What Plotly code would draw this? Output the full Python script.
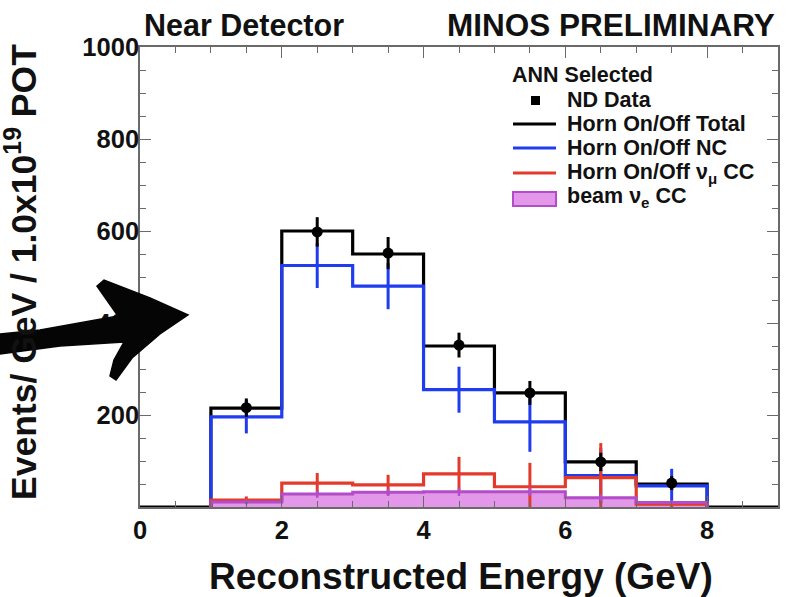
import plotly.graph_objects as go

# ---- histogram contents (events / GeV / 1e19 POT) ----
bin_edges = [0, 1, 2, 3, 4, 5, 6, 7, 8, 9]
total_on_off = [0, 215, 600, 550, 350, 248, 98, 50, 0]
nc_on_off = [0, 196, 525, 480, 255, 185, 68, 46, 0]
numu_cc_on_off = [0, 15, 52, 48, 72, 44, 64, 6, 0]
beam_nue_cc = [0, 11, 28, 32, 33, 33, 20, 10, 0]

# error bars drawn at the centres of the filled bins
bin_centres = [1.5, 2.5, 3.5, 4.5, 5.5, 6.5, 7.5]
nd_data = [216, 598, 552, 352, 248, 98, 52]
nd_data_err = [20, 32, 35, 27, 26, 20, 15]
nc_err = [36, 49, 50, 50, 65, 60, 37]
numu_cc_err = [8, 22, 22, 37, 52, 75, 6]
nue_cc_err = [5, 8, 8, 9, 9, 8, 5]

legend_labels = [
    "ND Data",
    "Horn On/Off Total",
    "Horn On/Off NC",
    "Horn On/Off \u03bd<sub>\u03bc</sub> CC",
    "beam \u03bd<sub>e</sub> CC",
]

BLACK = "#000000"
BLUE = "#1f3cf0"
RED = "#e43a2c"
PURPLE = "#b24cc8"
PINK = "#e397e9"
FONT = "Liberation Sans, Arial, sans-serif"

# canvas geometry (pixels)
W, H = 793, 597
ML, MR, MT, MB = 140, 15, 47, 90
PW, PH = W - ML - MR, H - MT - MB


def px(x, y):
    """Canvas pixel -> paper coordinates."""
    return (x - ML) / PW, (H - MB - y) / PH


def steps(values):
    # full step outline over every bin ('hv' needs the last value repeated)
    return bin_edges, list(values) + [values[-1]]


def filled_steps(values):
    # step outline over the non-empty bins only, dropping to zero at both ends
    inner = values[1:-1]
    xs = [bin_edges[1]] + bin_edges[1:-1]
    ys = [0] + list(inner) + [0]
    return xs, ys


fig = go.Figure()

# beam nu_e CC filled histogram
x, y = filled_steps(beam_nue_cc)
fig.add_trace(go.Scatter(x=x, y=y, mode="lines", line=dict(shape="hv", color=PINK, width=0),
                         fill="tozeroy", fillcolor=PINK, hoverinfo="skip"))

# total outline across the full range
x, y = steps(total_on_off)
fig.add_trace(go.Scatter(x=x, y=y, mode="lines", line=dict(shape="hv", color=BLACK, width=3.2)))

# NC and nu_mu CC outlines with their error bars
for vals, errs, col in [
    (nc_on_off, nc_err, BLUE),
    (numu_cc_on_off, numu_cc_err, RED),
]:
    x, y = filled_steps(vals)
    fig.add_trace(go.Scatter(x=x, y=y, mode="lines", line=dict(shape="hv", color=col, width=3.2)))
    fig.add_trace(go.Scatter(
        x=bin_centres, y=vals[1:8], mode="markers",
        marker=dict(size=1, opacity=0),
        error_y=dict(type="data", array=errs, width=0, thickness=3, color=col)))

# beam nu_e CC outline and error bars
x, y = filled_steps(beam_nue_cc)
fig.add_trace(go.Scatter(x=x, y=y, mode="lines", line=dict(shape="hv", color=PURPLE, width=3)))
fig.add_trace(go.Scatter(
    x=bin_centres, y=beam_nue_cc[1:8], mode="markers", marker=dict(size=1, opacity=0),
    error_y=dict(type="data", array=nue_cc_err, width=0, thickness=2.5, color=PURPLE)))

# near detector data
fig.add_trace(go.Scatter(
    x=bin_centres, y=nd_data, mode="markers",
    marker=dict(symbol="circle", size=11, color=BLACK),
    error_y=dict(type="data", array=nd_data_err, width=0, thickness=3, color=BLACK)))

axis_common = dict(
    showline=True, linecolor="#6a6a6a", linewidth=1.6, mirror="allticks",
    ticks="inside", ticklen=11, tickwidth=1.4, tickcolor="#6a6a6a",
    showgrid=False, zeroline=False,
    tickfont=dict(family=FONT, size=25.5, color="#111", weight="bold"),
)
fig.update_xaxes(range=[0, 9], tickmode="linear", tick0=0, dtick=2,
                 minor=dict(ticks="inside", ticklen=6, tickcolor="#6a6a6a", tickmode="linear",
                            tick0=0, dtick=0.5, showgrid=False),
                 **axis_common)
fig.update_yaxes(range=[0, 1000], tickmode="array", tickvals=[200, 400, 600, 800, 1000],
                 ticklabelstandoff=-6,
                 minor=dict(ticks="inside", ticklen=6, tickcolor="#6a6a6a", tickmode="linear",
                            tick0=0, dtick=50, showgrid=False),
                 **axis_common)

annotations = []


def text(xp, yp, s, size, xanchor="left", angle=0):
    ax, ay = px(xp, yp)
    annotations.append(dict(x=ax, y=ay, xref="paper", yref="paper", text=s, showarrow=False,
                            xanchor=xanchor, yanchor="middle", textangle=angle,
                            font=dict(family=FONT, size=size, color="#111", weight="bold")))


text(142, 25, "Near Detector", 30.5)
text(777, 25, "MINOS PRELIMINARY", 31.5, xanchor="right")
text(461, 576, "Reconstructed Energy (GeV)", 37, xanchor="center")
text(21, 272, "Events/ GeV / 1.0x10<sup>19</sup> POT", 35.5, xanchor="center", angle=-90)

# legend block
text(510, 75, "ANN Selected", 21.5)
shapes = []
row_y = [100, 124, 148, 173, 197]
for label, yy in zip(legend_labels, row_y):
    text(565, yy, label, 21.5)

x0, y0 = px(531, 96)
x1, y1 = px(540, 105)
shapes.append(dict(type="rect", xref="paper", yref="paper", x0=x0, y0=y0, x1=x1, y1=y1,
                   fillcolor=BLACK, line=dict(width=0)))
for col, yy in zip([BLACK, BLUE, RED], row_y[1:4]):
    a, b = px(513, yy)
    c, _ = px(556, yy)
    shapes.append(dict(type="line", xref="paper", yref="paper", x0=a, y0=b, x1=c, y1=b,
                       line=dict(color=col, width=3.2)))
a, b = px(513, 192)
c, d = px(556, 206)
shapes.append(dict(type="rect", xref="paper", yref="paper", x0=a, y0=b, x1=c, y1=d,
                   fillcolor=PINK, line=dict(color=PURPLE, width=2)))

# hand-drawn style arrow pointing at the y axis
arrow_px = [(0, 334), (40, 330), (118, 316), (97, 286), (104, 280), (150, 298), (188, 315),
            (160, 334), (132, 358), (116, 380), (110, 376), (114, 360), (124, 342),
            (60, 346), (0, 354)]
path = "M " + " L ".join("{:.4f},{:.4f}".format(*px(x, y)) for x, y in arrow_px) + " Z"
shapes.append(dict(type="path", xref="paper", yref="paper", path=path,
                   fillcolor="#050505", line=dict(color="#050505", width=1.5)))

fig.update_layout(
    width=W, height=H, margin=dict(l=ML, r=MR, t=MT, b=MB),
    paper_bgcolor="white", plot_bgcolor="white",
    showlegend=False, annotations=annotations, shapes=shapes,
    font=dict(family=FONT),
)

fig.write_html("out.html")
